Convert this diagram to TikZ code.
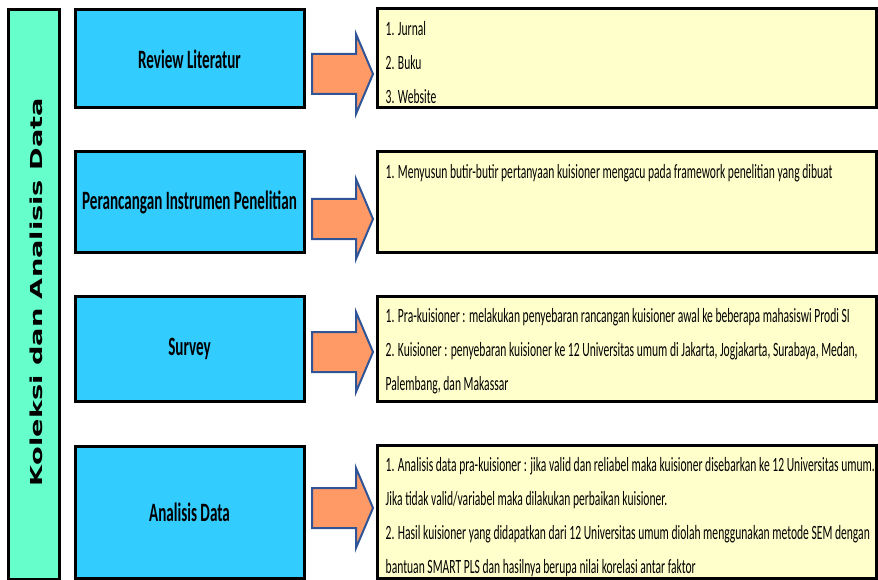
\documentclass[tikz,border=0pt]{standalone}
\usepackage{fontspec}
\newfontfamily\isifont{Carlito}[FakeStretch=0.57]
\newfontfamily\sampingfont{DejaVu Sans}[FakeStretch=1.65]
\usetikzlibrary{positioning}
\definecolor{biru}{HTML}{33CCFF}
\definecolor{hijau}{HTML}{66FFCC}
\definecolor{kuning}{HTML}{FFFFCC}
\definecolor{oranye}{HTML}{FF9966}
\definecolor{tepipanah}{HTML}{2F5597}
\tikzset{
  kotak/.style={draw=black, line width=3pt, inner sep=0pt},
  tahap/.style={kotak, fill=biru, minimum width=229pt,
    font={\isifont\bfseries\fontsize{26.5}{30}\selectfont}},
  rincian/.style={kotak, fill=kuning, minimum width=499pt},
  isi/.style={inner sep=0pt, anchor=north west, align=left,
    font={\isifont\fontsize{20.3}{33.8}\selectfont}},
  panah/.style={fill=oranye, draw=tepipanah, line width=2pt, line join=miter}
}
\begin{document}
\begin{tikzpicture}[x=1pt, y=-1pt]
    \useasboundingbox (0,0) rectangle (878,580);

    \node[kotak, fill=hijau, minimum width=51pt, minimum height=569pt] (samping) at (33.5,294.5) {};
    \node[rotate=90, font={\sampingfont\bfseries\fontsize{16.5}{20}\selectfont}] (judul) at (36,292) {Koleksi dan Analisis Data};

    \node[tahap, minimum height=98pt]  (b1) at (189.5,59)    {Review Literatur};
    \node[tahap, minimum height=100pt] (b2) at (189.5,202)   {Perancangan Instrumen Penelitian};
    \node[tahap, minimum height=105pt] (b3) at (189.5,349)   {Survey};
    \node[tahap, minimum height=132pt] (b4) at (189.5,512)   {Analisis Data};

    \node[rincian, minimum height=99pt]  (k1) at (626.5,58.5)  {};
    \node[rincian, minimum height=100pt] (k2) at (626.5,202)   {};
    \node[rincian, minimum height=105pt] (k3) at (626.5,348.5) {};
    \node[rincian, minimum height=133pt] (k4) at (626.5,511.5) {};

    \node[isi] (t1) at ([xshift=10pt,yshift=-14pt]k1.north west) {1. Jurnal\\2. Buku\\3. Website};
    \node[isi] (t2) at ([xshift=10pt,yshift=-14pt]k2.north west) {1. Menyusun butir-butir pertanyaan kuisioner mengacu pada framework penelitian yang dibuat};
    \node[isi] (t3) at ([xshift=10pt,yshift=-14pt]k3.north west) {1. Pra-kuisioner : melakukan penyebaran rancangan kuisioner awal ke beberapa mahasiswi Prodi SI\\2. Kuisioner : penyebaran kuisioner ke 12 Universitas umum di Jakarta, Jogjakarta, Surabaya, Medan,\\Palembang, dan Makassar};
    \node[isi] (t4) at ([xshift=10pt,yshift=-14pt]k4.north west) {1. Analisis data pra-kuisioner : jika valid dan reliabel maka kuisioner disebarkan ke 12 Universitas umum.\\Jika tidak valid/variabel maka dilakukan perbaikan kuisioner.\\2. Hasil kuisioner yang didapatkan dari 12 Universitas umum diolah menggunakan metode SEM dengan\\bantuan SMART PLS dan hasilnya berupa nilai korelasi antar faktor};

    \foreach \y/\n in {74/1, 219/2, 352/3, 508/4} {
        \coordinate (p\n) at (312,\y);
        \draw[panah] (p\n) ++(0,-20) -- ++(44,0) -- ++(0,-20) -- ++(17,40)
            -- ++(-17,40) -- ++(0,-20) -- ++(-44,0) -- cycle;
    }

\end{tikzpicture}
\end{document}
